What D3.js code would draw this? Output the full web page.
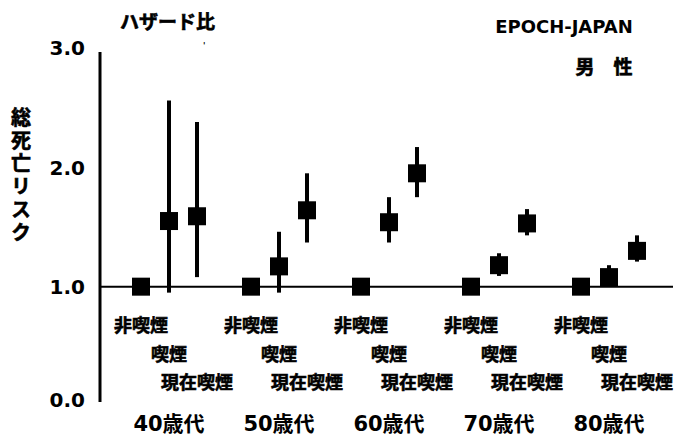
<!DOCTYPE html>
<html>
<head>
<meta charset="utf-8">
<script src="https://cdn.jsdelivr.net/npm/d3@7"></script>
<style>
  body { margin: 0; background: #fff; }
  text { font-family: "DejaVu Sans", "Noto Sans CJK JP", sans-serif; font-weight: bold; fill: #000; }
  .jp { font-family: "Noto Sans CJK JP", sans-serif; stroke: #000; stroke-width: 0.6px; }
</style>
</head>
<body>
<svg id="chart" width="679" height="439"></svg>
<script>
// 年代・喫煙区分・ハザード比（95%CI）
const ageGroups = ['40歳代', '50歳代', '60歳代', '70歳代', '80歳代'];
const smokeTypes = ['非喫煙', '喫煙', '現在喫煙'];
const hr    = [[1, 1.55, 1.59], [1, 1.17, 1.64], [1, 1.54, 1.95], [1, 1.18, 1.53], [1, 1.08, 1.30]];
const ciLow = [[1, 0.95, 1.08], [1, 0.95, 1.37], [1, 1.37, 1.75], [1, 1.09, 1.43], [1, 1.00, 1.21]];
const ciHigh= [[1, 2.56, 2.38], [1, 1.46, 1.95], [1, 1.75, 2.17], [1, 1.28, 1.65], [1, 1.18, 1.43]];
const yTicks = [0, 1, 2, 3];

const svg = d3.select('#chart');

const x = d3.scaleBand().domain(ageGroups).range([114, 664]);
const xi = d3.scalePoint().domain(smokeTypes).range([-28, 28]);
const y = d3.scaleLinear().domain([0, 3]).range([406, 48]);

const cx = (g, s) => x(g) + x.bandwidth() / 2 + xi(s);

// 軸
svg.append('line')
  .attr('x1', 100).attr('x2', 100).attr('y1', 52).attr('y2', 402)
  .attr('stroke', '#000').attr('stroke-width', 3);

svg.append('line')
  .attr('x1', 100).attr('x2', 673).attr('y1', y(1)).attr('y2', y(1))
  .attr('stroke', '#000').attr('stroke-width', 2);

svg.selectAll('text.ytick')
  .data(yTicks)
  .join('text')
  .attr('class', 'ytick')
  .attr('x', 85)
  .attr('y', d => d === 0 ? y(d) - 6 : y(d))
  .attr('dy', '0.36em')
  .attr('text-anchor', 'end')
  .attr('font-size', 20)
  .text(d => d.toFixed(1));

// データ点
const pts = [];
ageGroups.forEach((g, i) => smokeTypes.forEach((s, j) => {
  pts.push({ g, s, v: hr[i][j], lo: ciLow[i][j], hi: ciHigh[i][j] });
}));

svg.selectAll('line.ci')
  .data(pts.filter(d => d.hi > d.lo))
  .join('line')
  .attr('class', 'ci')
  .attr('x1', d => cx(d.g, d.s)).attr('x2', d => cx(d.g, d.s))
  .attr('y1', d => y(d.lo)).attr('y2', d => y(d.hi))
  .attr('stroke', '#000').attr('stroke-width', 4);

const sz = 18;
svg.selectAll('rect.pt')
  .data(pts)
  .join('rect')
  .attr('class', 'pt')
  .attr('x', d => cx(d.g, d.s) - sz / 2)
  .attr('y', d => y(d.v) - sz / 2)
  .attr('width', sz).attr('height', sz)
  .attr('fill', '#000');

// 区分ラベル
svg.selectAll('text.stype')
  .data(pts)
  .join('text')
  .attr('class', 'stype jp')
  .attr('x', d => cx(d.g, d.s))
  .attr('y', d => 326 + smokeTypes.indexOf(d.s) * 28.5)
  .attr('dy', '0.36em')
  .attr('text-anchor', 'middle')
  .attr('font-size', 18)
  .text(d => d.s);

// 年代ラベル
svg.selectAll('text.age')
  .data(ageGroups)
  .join('text')
  .attr('class', 'age')
  .attr('x', d => x(d) + x.bandwidth() / 2)
  .attr('y', 423)
  .attr('dy', '0.36em')
  .attr('text-anchor', 'middle')
  .attr('font-size', 21)
  .text(d => d);

// タイトル類
svg.append('text').attr('class', 'jp')
  .attr('x', 120).attr('y', 22).attr('dy', '0.36em')
  .attr('font-size', 19).text('ハザード比');

svg.append('text')
  .attr('x', 203).attr('y', 46).attr('dy', '0.36em')
  .attr('font-size', 8).attr('font-weight', 'normal').text("'");

svg.append('text')
  .attr('x', 564).attr('y', 27).attr('dy', '0.36em')
  .attr('text-anchor', 'middle')
  .attr('font-size', 18).text('EPOCH-JAPAN');

svg.append('text').attr('class', 'jp')
  .attr('x', 604).attr('y', 67).attr('dy', '0.36em')
  .attr('text-anchor', 'middle')
  .attr('font-size', 19).text('男　性');

// 縦書きの軸タイトル
svg.append('text').attr('class', 'jp')
  .attr('x', 21).attr('y', 107)
  .style('writing-mode', 'vertical-rl')
  .style('text-orientation', 'upright')
  .style('letter-spacing', '3px')
  .attr('font-size', 20)
  .text('総死亡リスク');
</script>
</body>
</html>
